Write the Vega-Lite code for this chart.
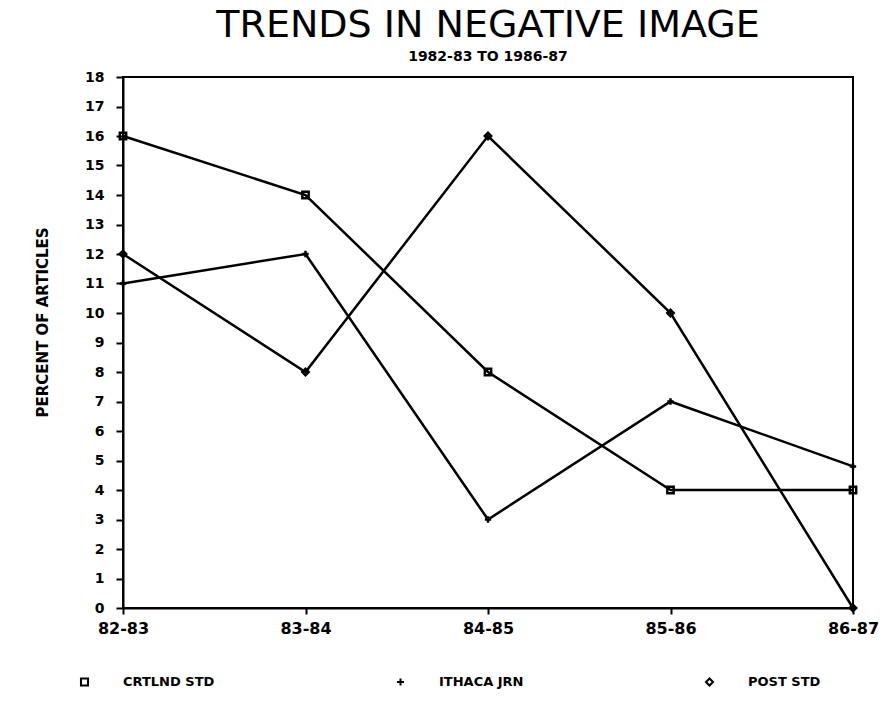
{
  "$schema": "https://vega.github.io/schema/vega-lite/v6.json",
  "width": 730,
  "height": 531,
  "autosize": {"type": "none"},
  "padding": {"left": 123, "top": 77, "right": 33, "bottom": 95},
  "background": "white",
  "title": {
    "text": "TRENDS IN NEGATIVE IMAGE",
    "subtitle": "1982-83 TO 1986-87",
    "anchor": "middle",
    "font": "DejaVu Sans",
    "fontSize": 38,
    "fontWeight": "normal",
    "color": "black",
    "subtitleFont": "DejaVu Sans",
    "subtitleFontSize": 14,
    "subtitleFontWeight": "bold",
    "subtitleColor": "black",
    "subtitlePadding": 5,
    "offset": 6
  },
  "config": {
    "view": {"stroke": "black", "strokeWidth": 2},
    "axis": {
      "domainColor": "black",
      "domainWidth": 2,
      "tickColor": "black",
      "tickWidth": 2,
      "labelColor": "black",
      "labelFont": "DejaVu Sans",
      "labelFontWeight": "bold",
      "grid": false,
      "titleColor": "black"
    }
  },
  "data": {
    "values": [
      {"year": "82-83", "series": "CRTLND STD", "pct": 16},
      {"year": "83-84", "series": "CRTLND STD", "pct": 14},
      {"year": "84-85", "series": "CRTLND STD", "pct": 8},
      {"year": "85-86", "series": "CRTLND STD", "pct": 4},
      {"year": "86-87", "series": "CRTLND STD", "pct": 4},
      {"year": "82-83", "series": "ITHACA JRN", "pct": 11},
      {"year": "83-84", "series": "ITHACA JRN", "pct": 12},
      {"year": "84-85", "series": "ITHACA JRN", "pct": 3},
      {"year": "85-86", "series": "ITHACA JRN", "pct": 7},
      {"year": "86-87", "series": "ITHACA JRN", "pct": 4.8},
      {"year": "82-83", "series": "POST STD", "pct": 12},
      {"year": "83-84", "series": "POST STD", "pct": 8},
      {"year": "84-85", "series": "POST STD", "pct": 16},
      {"year": "85-86", "series": "POST STD", "pct": 10},
      {"year": "86-87", "series": "POST STD", "pct": 0}
    ]
  },
  "encoding": {
    "x": {
      "field": "year",
      "type": "ordinal",
      "sort": null,
      "scale": {"type": "point", "padding": 0},
      "axis": {
        "title": null,
        "labelAngle": 0,
        "labelFontSize": 16,
        "tickSize": 6,
        "labelPadding": 6
      }
    },
    "y": {
      "field": "pct",
      "type": "quantitative",
      "scale": {"domain": [0, 18], "nice": false},
      "axis": {
        "title": "PERCENT OF ARTICLES",
        "values": [0,1,2,3,4,5,6,7,8,9,10,11,12,13,14,15,16,17,18],
        "labelFontSize": 14,
        "tickSize": 7,
        "labelPadding": 12,
        "titleFont": "DejaVu Sans",
        "titleFontWeight": "bold",
        "titleFontSize": 15,
        "titleAngle": -90,
        "titleAlign": "center",
        "titleBaseline": "middle",
        "titleX": -81,
        "titleY": 245
      }
    }
  },
  "layer": [
    {
      "mark": {"type": "line", "color": "black", "strokeWidth": 2.5},
      "encoding": {"detail": {"field": "series"}}
    },
    {
      "mark": {"type": "point", "color": "black", "filled": false, "strokeWidth": 2.5, "size": 40, "opacity": 1},
      "encoding": {
        "shape": {
          "field": "series",
          "type": "nominal",
          "scale": {"domain": ["CRTLND STD", "ITHACA JRN", "POST STD"], "range": ["square", "M-1,0L1,0M0,-1L0,1", "diamond"]},
          "legend": {
            "title": null,
            "orient": "none",
            "direction": "horizontal",
            "columns": 3,
            "legendX": -45,
            "legendY": 598,
            "columnPadding": 177,
            "labelFont": "DejaVu Sans",
            "labelFontWeight": "bold",
            "labelFontSize": 13,
            "labelColor": "black",
            "labelOffset": 32,
            "symbolSize": 50,
            "symbolStrokeWidth": 2,
            "symbolStrokeColor": "black",
            "symbolFillColor": "transparent",
            "symbolType": "square"
          }
        }
      }
    }
  ]
}
